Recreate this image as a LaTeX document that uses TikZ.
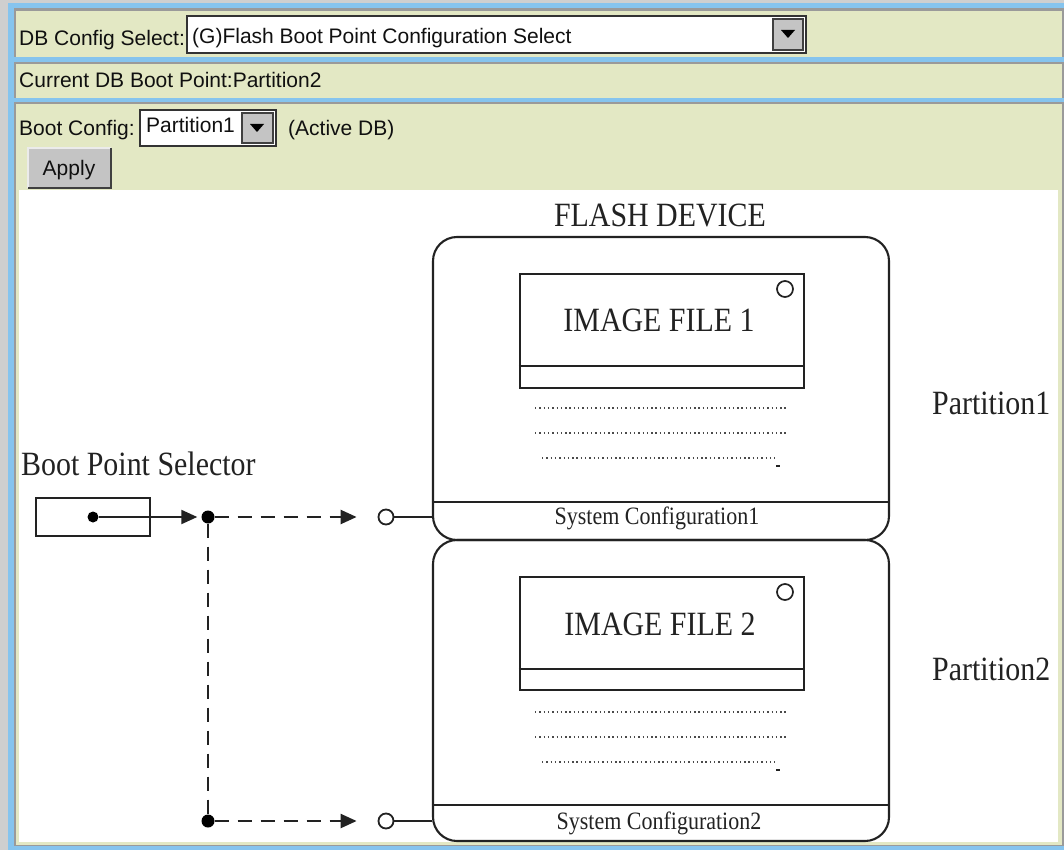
\documentclass[tikz,border=0pt]{standalone}
\usepackage{fontspec}
\usetikzlibrary{arrows.meta}
\newfontfamily\uifont{Liberation Sans}
\newfontfamily\dgfont[FakeStretch=0.88]{Liberation Serif}
\definecolor{outergray}{HTML}{CFCFCF}
\definecolor{frameblue}{HTML}{86C4EE}
\definecolor{edgegray}{HTML}{9A9A9A}
\definecolor{panel}{HTML}{E3E8C4}
\definecolor{uitext}{HTML}{101010}
\definecolor{btnface}{HTML}{C4C4C4}
\definecolor{ink}{HTML}{222222}
\definecolor{dotgray}{HTML}{4A4A4A}
\tikzset{
  ui/.style={font=\uifont\fontsize{21}{24}\selectfont, text=uitext, inner sep=0pt},
  big/.style={font=\dgfont\fontsize{34}{38}\selectfont, text=ink, inner sep=0pt},
  small/.style={font=\dgfont\fontsize{25}{28}\selectfont, text=ink, inner sep=0pt},
  flashbox/.style={draw=ink, line width=2.1pt, rounded corners=24pt, minimum width=456pt, inner sep=0pt},
  imgbox/.style={draw=ink, line width=2.1pt, minimum width=284pt, inner sep=0pt},
  wire/.style={draw=ink, line width=2.1pt},
  dashwire/.style={draw=ink, line width=2.3pt, dash pattern=on 14pt off 9pt},
  tipped/.style={-{Triangle[length=16pt,width=14pt]}},
  dotdot/.style={draw=dotgray, line width=1.6pt, dash pattern=on 1.4pt off 2.9pt},
  blackdot/.style={circle, fill=black, minimum size=13pt, inner sep=0pt},
  opendot/.style={circle, draw=ink, fill=white, line width=1.8pt, minimum size=15pt, inner sep=0pt},
  ledcircle/.style={circle, draw=ink, line width=1.7pt, minimum size=16pt, inner sep=0pt},
  dropbox/.style={fill=white, draw=black!80, line width=1.8pt},
  dropbtn/.style={fill=btnface, draw=black!75, line width=1.6pt},
}
\begin{document}
\begin{tikzpicture}[x=1pt, y=-1pt]
\useasboundingbox (0,0) rectangle (1064,850);

% window frame and panels
\fill[outergray] (0,0) rectangle (1064,850);
\fill[frameblue] (8,3) rectangle (1064,850);
\fill[edgegray] (14,8) rectangle (1064,57);
\fill[panel] (16,11) rectangle (1062,57);
\fill[edgegray] (14,62) rectangle (1064,98);
\fill[panel] (16,64) rectangle (1062,98);
\fill[edgegray] (14,102) rectangle (1064,846);
\fill[panel] (16,104) rectangle (1062,845);
\fill[white] (19,190) rectangle (1058,842);

% row 1: database configuration selector
\node[ui, anchor=base west] (dblabel) at (19,46) {DB Config Select:};
\draw[dropbox] (187,16) rectangle (806,53);
\draw[dropbtn] (773,19) rectangle (803,50);
\fill[black] (781,30) -- (795,30) -- (788,38) -- cycle;
\node[ui, anchor=base west] (dbvalue) at (192,44) {(G)Flash Boot Point Configuration Select};

% row 2: current boot point
\node[ui, anchor=base west] (current) at (19,88) {Current DB Boot Point:Partition2};

% row 3: boot configuration and apply
\node[ui, anchor=base west] (bootlabel) at (19,136) {Boot Config:};
\draw[dropbox] (140,110) rectangle (276,146);
\draw[dropbtn] (242,113) rectangle (273,143);
\fill[black] (250,124) -- (264,124) -- (257,132) -- cycle;
\node[ui, anchor=base west] (bootvalue) at (146,133) {Partition1};
\node[ui, anchor=base west] (active) at (288,136) {(Active DB)};
\fill[btnface] (28,148) rectangle (111,188);
\draw[white!92!black, line width=1.5pt] (28,188) -- (28,148) -- (111,148);
\draw[black!75, line width=2.2pt] (28,188) -- (111,188) -- (111,148);
\node[ui, anchor=base] (apply) at (69,176) {Apply};

% flash device
\node[big] (title) at (660,216) {FLASH DEVICE};
\node[flashbox, minimum height=303pt] (flash1) at (661,388.5) {};
\node[flashbox, minimum height=301pt] (flash2) at (661,690.5) {};
\draw[wire] (flash1.west |- 0,502) -- (flash1.east |- 0,502);
\draw[wire] (flash2.west |- 0,805) -- (flash2.east |- 0,805);
\node[small] (sys1) at (657,518) {System Configuration1};
\node[small] (sys2) at (659,823) {System Configuration2};

% image files
\node[imgbox, minimum height=114pt] (img1) at (662,331) {};
\draw[wire] (img1.west |- 0,366) -- (img1.east |- 0,366);
\node[big] (img1txt) at (659,320) {IMAGE FILE 1};
\node[ledcircle] (led1) at (785,289) {};
\node[imgbox, minimum height=113pt] (img2) at (662,633.5) {};
\draw[wire] (img2.west |- 0,669) -- (img2.east |- 0,669);
\node[big] (img2txt) at (660,624) {IMAGE FILE 2};
\node[ledcircle] (led2) at (785,592) {};

% placeholder dotted lines
\draw[dotdot] (535,408) -- (788,408);
\draw[dotdot] (535,433) -- (788,433);
\draw[dotdot] (542,458) -- (775,458);
\draw[ink, line width=1.2pt] (776,466) -- (780,466);
\draw[dotdot] (535,712) -- (788,712);
\draw[dotdot] (535,737) -- (788,737);
\draw[dotdot] (542,762) -- (775,762);
\draw[ink, line width=1.2pt] (776,770) -- (780,770);

% partition labels
\node[big, anchor=west] (part1) at (932,403) {Partition1};
\node[big, anchor=west] (part2) at (932,669) {Partition2};

% boot point selector
\node[big, anchor=base west] (bps) at (21,475) {Boot Point Selector};
\node[draw=ink, line width=2.1pt, minimum width=114pt, minimum height=38pt, inner sep=0pt] (selbox) at (93,517) {};
\node[blackdot, minimum size=11pt] (pivot) at (93,517) {};
\node[blackdot] (j1) at (208,517) {};
\node[blackdot] (j2) at (208,821) {};
\node[opendot] (c1) at (386,517) {};
\node[opendot] (c2) at (386,821) {};

\draw[wire, tipped, shorten >=4pt] (pivot) -- (j1);
\draw[dashwire, tipped, shorten >=21pt] (j1) -- (c1);
\draw[dashwire] (j1) -- (j2);
\draw[dashwire, tipped, shorten >=21pt] (j2) -- (c2);
\draw[wire] (c1) -- (c1 -| flash1.west);
\draw[wire] (c2) -- (c2 -| flash2.west);
\end{tikzpicture}
\end{document}
